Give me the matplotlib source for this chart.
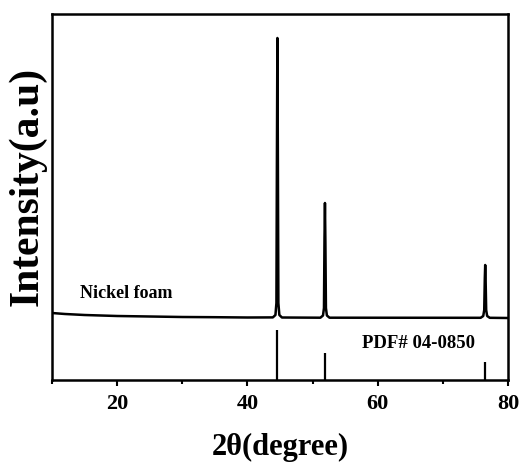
import matplotlib
matplotlib.use("Agg")
import matplotlib.pyplot as plt
from matplotlib.ticker import MultipleLocator

plt.rcParams['font.family'] = ['Liberation Serif', 'DejaVu Serif']
plt.rcParams['font.weight'] = 'bold'

# XRD pattern of nickel foam (intensity, a.u.)
two_theta = [10, 12, 15, 20, 25, 30, 35, 40, 43.9, 44.3, 44.45, 44.52, 44.58, 44.6,
             44.62, 44.68, 44.75, 44.9, 45.3, 51.2, 51.6, 51.75, 51.83, 51.88, 51.9,
             51.92, 51.97, 52.05, 52.2, 52.6, 75.8, 76.2, 76.35, 76.44, 76.5, 76.56,
             76.65, 76.8, 77.2, 80]
intensity = [5, 4, 3, 2, 1.5, 1, 0.8, 0.5, 0.6, 3, 15, 150, 250, 280,
             250, 150, 15, 3, 0.5, 0.3, 2.5, 10, 80, 105, 115,
             105, 75, 10, 2.5, 0.3, 0.2, 2, 8, 40, 53, 40,
             8, 2, 0.2, 0]

# standard card PDF# 04-0850 (Ni)
ref_pos = [44.6, 51.9, 76.5]
ref_int = [50, 27, 18]

offset = 62  # vertical shift of the measured pattern above the card lines


def main():
    fig = plt.figure(figsize=(5.23, 4.66), dpi=100)
    ax = fig.add_axes([52 / 523, 86 / 466, 456 / 523, 366 / 466])

    ax.plot(two_theta, [v + offset for v in intensity], color='black', lw=1.8)
    ax.vlines(ref_pos, 0, ref_int, color='black', lw=1.6)

    ax.text(14.3, 87, 'Nickel foam', fontsize=13, fontweight='bold', va='center')
    ax.text(57.6, 37, 'PDF# 04-0850', fontsize=13.5, fontweight='bold', va='center')

    ax.set_xlim(10, 80)
    ax.set_ylim(0, 366)
    ax.xaxis.set_major_locator(MultipleLocator(20))
    ax.xaxis.set_minor_locator(MultipleLocator(10))
    ax.set_yticks([])
    ax.tick_params(axis='x', which='major', direction='out', length=4, width=1.5,
                   labelsize=16, pad=6)
    ax.tick_params(axis='x', which='minor', direction='out', length=3, width=1.5)
    for lab in ax.get_xticklabels():
        lab.set_fontweight('bold')
    for sp in ax.spines.values():
        sp.set_linewidth(1.8)

    ax.set_xlabel('2θ(degree)', fontsize=22, fontweight='bold', labelpad=14)
    fig.text(27 / 523, 1 - 186 / 466, 'Intensity(a.u)', fontsize=30, fontweight='bold',
             rotation=90, ha='center', va='center')

    fig.savefig('out.png', dpi=100)


if __name__ == "__main__":
    main()
